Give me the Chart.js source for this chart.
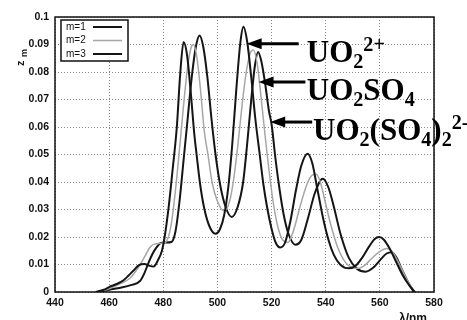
<!DOCTYPE html>
<html>
<head>
<meta charset="utf-8">
<script src="https://cdn.jsdelivr.net/npm/chart.js@4.4.1/dist/chart.umd.min.js"></script>
<style>
  html, body { margin: 0; padding: 0; background: #fff; }
  #wrap { width: 467px; height: 320px; }
</style>
</head>
<body>
<div id="wrap"><canvas id="spectra" width="467" height="320"></canvas></div>
<script>
// readings taken off the spectra: wavelength (nm) and z_m for each m
const wlM1 = [455, 458, 460, 463, 465.2, 467, 469, 471, 473, 475, 476.5, 478, 479.5, 480.5, 482, 483.5, 485, 486.3, 487.5, 488.8, 490.2, 491.5, 492.3, 493.5, 495, 497, 499.3, 501, 502.5, 504, 505.5, 507, 508.5, 509.6, 511, 512.5, 514, 515.5, 517, 518.5, 520, 521.5, 523.2, 525, 527, 529, 531, 533.3, 535, 537, 539, 541, 543, 545.5, 548.5, 551, 553.5, 556, 558, 559.7, 561.5, 563.5, 566, 568.5, 571, 573];
const zM1 = [0, 0.0008, 0.0018, 0.003, 0.0042, 0.0058, 0.0078, 0.0098, 0.0102, 0.0095, 0.0093, 0.0115, 0.015, 0.02, 0.031, 0.045, 0.06, 0.08, 0.0909, 0.086, 0.072, 0.057, 0.05, 0.04, 0.031, 0.024, 0.0212, 0.023, 0.028, 0.038, 0.054, 0.074, 0.091, 0.0965, 0.091, 0.078, 0.063, 0.051, 0.039, 0.03, 0.023, 0.018, 0.0162, 0.018, 0.026, 0.037, 0.046, 0.0503, 0.047, 0.037, 0.027, 0.019, 0.0135, 0.0098, 0.0086, 0.0095, 0.0125, 0.0165, 0.0192, 0.02, 0.019, 0.016, 0.011, 0.006, 0.0022, 0];

const wlM2 = [455.5, 458, 460, 464, 467.7, 470, 471.5, 473.5, 475, 477, 480, 481.5, 483, 484.5, 486, 487.5, 489, 490.3, 491.1, 492.3, 493.7, 495.2, 496.5, 498, 500, 502.5, 504.5, 506, 507.5, 509, 510.5, 512, 513.3, 514.7, 516.2, 517.7, 519.2, 520.7, 522.5, 524.2, 526, 528, 530.5, 533, 535, 536.5, 538, 540, 542, 544.5, 547.5, 550, 552, 554.5, 557, 560, 562.5, 564.5, 567, 569.5, 571.5, 573];
const zM2 = [0, 0.0006, 0.0012, 0.003, 0.005, 0.0078, 0.01, 0.0135, 0.0162, 0.0175, 0.0178, 0.019, 0.025, 0.037, 0.052, 0.068, 0.082, 0.089, 0.09, 0.086, 0.074, 0.058, 0.05, 0.04, 0.033, 0.0295, 0.033, 0.041, 0.053, 0.067, 0.079, 0.0865, 0.088, 0.083, 0.07, 0.056, 0.043, 0.032, 0.023, 0.0188, 0.018, 0.022, 0.031, 0.039, 0.0425, 0.0428, 0.04, 0.032, 0.024, 0.016, 0.0105, 0.0088, 0.0086, 0.0098, 0.0122, 0.0148, 0.0158, 0.0148, 0.0105, 0.0055, 0.002, 0];

const wlM3 = [456, 460, 465, 468, 471.4, 473, 474.5, 476, 477.5, 479, 481, 483, 484.5, 486, 487.5, 489, 490.5, 492, 493.4, 494.8, 496.3, 497.8, 499.3, 501, 503, 505.3, 507.5, 509.5, 511, 512.5, 513.8, 515, 516.2, 517.6, 519, 520, 521.5, 523, 524.5, 526.3, 528.8, 531, 533.5, 536, 538.9, 541, 543, 545.5, 548.5, 551.5, 554.8, 557.5, 560, 562.5, 564.4, 566, 568, 570.5, 572.5];
const zM3 = [0, 0.0008, 0.0017, 0.0025, 0.004, 0.0068, 0.0105, 0.0138, 0.0162, 0.0178, 0.018, 0.0182, 0.022, 0.033, 0.048, 0.063, 0.078, 0.089, 0.0933, 0.089, 0.078, 0.063, 0.05, 0.039, 0.031, 0.0273, 0.031, 0.04, 0.054, 0.07, 0.082, 0.0873, 0.084, 0.076, 0.066, 0.061, 0.048, 0.037, 0.028, 0.021, 0.0172, 0.019, 0.027, 0.036, 0.0412, 0.038, 0.031, 0.021, 0.0125, 0.0085, 0.0074, 0.0088, 0.0115, 0.014, 0.0145, 0.0128, 0.0085, 0.0035, 0];

const seriesLabels = ["m=1", "m=2", "m=3"];
const xTicks = [440, 460, 480, 500, 520, 540, 560, 580];
const yTicks = [0, 0.01, 0.02, 0.03, 0.04, 0.05, 0.06, 0.07, 0.08, 0.09, 0.1];

// species labels: arrow tip (nm, z_m), arrow tail (nm), text start (nm) and formula pieces
const arrowTipWl = [510.8, 515.2, 519.5];
const arrowTipZ = [0.0903, 0.0764, 0.0618];
const arrowTailWl = [530, 532.5, 535];
const textStartWl = [533, 533, 535.3];
const speciesText = [
  [["UO"], ["2", "sub"], ["2+", "sup"]],
  [["UO"], ["2", "sub"], ["SO"], ["4", "sub"]],
  [["UO"], ["2", "sub"], ["(SO"], ["4", "sub"], [")"], ["2", "sub"], ["2-", "sup"]],
];

const toPoints = (xs, ys) => xs.map((x, i) => ({ x: x, y: ys[i] }));

const lineColors = ["#151515", "#a6a6a6", "#151515"];
const lineWidths = [2, 1.5, 2];

const frame = {
  id: "frame",
  afterDatasetsDraw(chart) {
    const { ctx, chartArea: a } = chart;
    ctx.save();
    ctx.strokeStyle = "#111";
    ctx.lineWidth = 1.5;
    ctx.strokeRect(a.left, a.top, a.right - a.left, a.bottom - a.top);
    ctx.restore();
  },
};

const boxLegend = {
  id: "boxLegend",
  afterDraw(chart) {
    const ctx = chart.ctx;
    const a = chart.chartArea;
    const x0 = a.left + 6, y0 = a.top + 3;
    ctx.save();
    ctx.fillStyle = "#fff";
    ctx.fillRect(x0, y0, 67, 41);
    ctx.strokeStyle = "#111";
    ctx.lineWidth = 1.5;
    ctx.strokeRect(x0, y0, 67, 41);
    ctx.font = "10px 'Liberation Sans', Arial, sans-serif";
    ctx.textBaseline = "middle";
    chart.data.datasets.forEach((ds, i) => {
      const y = y0 + 7 + i * 13.5;
      ctx.fillStyle = "#111";
      ctx.fillText(ds.label, x0 + 5, y);
      ctx.strokeStyle = ds.borderColor;
      ctx.lineWidth = ds.borderWidth;
      ctx.beginPath();
      ctx.moveTo(x0 + 32, y);
      ctx.lineTo(x0 + 61, y);
      ctx.stroke();
    });
    ctx.restore();
  },
};

function richText(ctx, x, y, parts, size) {
  parts.forEach(([t, kind]) => {
    let s = size, dy = 0;
    if (kind === "sub") { s = size * 0.65; dy = size * 0.2; }
    if (kind === "sup") { s = size * 0.65; dy = -size * 0.36; }
    ctx.font = "bold " + s + "px 'Liberation Serif', 'Times New Roman', serif";
    ctx.fillText(t, x, y + dy);
    x += ctx.measureText(t).width;
  });
}

const species = {
  id: "species",
  afterDraw(chart) {
    const ctx = chart.ctx;
    const xs = chart.scales.x, ys = chart.scales.y;
    ctx.save();
    ctx.fillStyle = "#000";
    ctx.strokeStyle = "#000";
    arrowTipWl.forEach((wl, i) => {
      const tx = xs.getPixelForValue(wl);
      const ty = ys.getPixelForValue(arrowTipZ[i]);
      const ex = xs.getPixelForValue(arrowTailWl[i]);
      ctx.lineWidth = 3;
      ctx.beginPath();
      ctx.moveTo(tx + 12, ty);
      ctx.lineTo(ex, ty);
      ctx.stroke();
      ctx.beginPath();
      ctx.moveTo(tx, ty);
      ctx.lineTo(tx + 15, ty - 5.5);
      ctx.lineTo(tx + 15, ty + 5.5);
      ctx.closePath();
      ctx.fill();
      ctx.textBaseline = "alphabetic";
      richText(ctx, xs.getPixelForValue(textStartWl[i]), ty + 18, speciesText[i], 31);
    });
    ctx.restore();
  },
};

const axisTitles = {
  id: "axisTitles",
  afterDraw(chart) {
    const ctx = chart.ctx;
    ctx.save();
    ctx.fillStyle = "#111";
    ctx.textBaseline = "alphabetic";
    ctx.translate(24, 66);
    ctx.rotate(-Math.PI / 2);
    ctx.font = "bold 11px 'Liberation Sans', Arial, sans-serif";
    ctx.fillText("z", 0, 0);
    ctx.font = "bold 9px 'Liberation Sans', Arial, sans-serif";
    ctx.fillText("m", 9, 3);
    ctx.restore();
    ctx.save();
    ctx.fillStyle = "#111";
    ctx.font = "bold 12px 'Liberation Sans', Arial, sans-serif";
    ctx.fillText("\u03bb/nm", 399, 322);
    ctx.restore();
  },
};

const tickFont = { family: "'Liberation Sans', Arial, sans-serif", size: 10.5, weight: "bold" };

new Chart(document.getElementById("spectra").getContext("2d"), {
  type: "line",
  data: {
    datasets: [
      { label: seriesLabels[0], data: toPoints(wlM1, zM1) },
      { label: seriesLabels[1], data: toPoints(wlM2, zM2) },
      { label: seriesLabels[2], data: toPoints(wlM3, zM3) },
    ].map((ds, i) => ({
      ...ds,
      borderColor: lineColors[i],
      borderWidth: lineWidths[i],
      pointRadius: 0,
      fill: false,
      cubicInterpolationMode: "monotone",
    })),
  },
  options: {
    responsive: false,
    animation: false,
    devicePixelRatio: 1,
    layout: { padding: { left: 0, right: 33, top: 17, bottom: 0 } },
    plugins: { legend: { display: false }, tooltip: { enabled: false } },
    scales: {
      x: {
        type: "linear",
        min: xTicks[0],
        max: xTicks[xTicks.length - 1],
        afterBuildTicks: (s) => { s.ticks = xTicks.map((v) => ({ value: v })); },
        afterFit: (s) => { s.height = 28; },
        ticks: { color: "#111", font: tickFont, padding: 5, maxRotation: 0 },
        grid: { color: "#8a8a8a", lineWidth: 1, drawTicks: false },
        border: { display: false, dash: [1, 2] },
      },
      y: {
        min: yTicks[0],
        max: yTicks[yTicks.length - 1],
        afterBuildTicks: (s) => { s.ticks = yTicks.map((v) => ({ value: v })); },
        afterFit: (s) => { s.width = 55; },
        ticks: {
          color: "#111",
          font: tickFont,
          padding: 6,
          callback: (v) => String(+v.toFixed(2)),
        },
        grid: { color: "#8a8a8a", lineWidth: 1, drawTicks: false },
        border: { display: false, dash: [1, 2] },
      },
    },
  },
  plugins: [frame, boxLegend, species, axisTitles],
});
</script>
</body>
</html>
